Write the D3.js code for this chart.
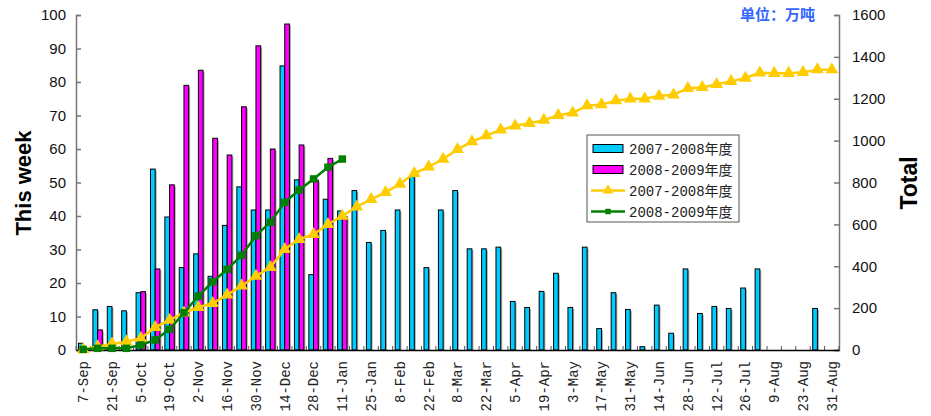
<!DOCTYPE html>
<html lang="zh">
<head>
<meta charset="UTF-8">
<style>
  body { margin: 0; background: #fff; }
  svg text { font-family: "Liberation Sans", Arial, sans-serif; }
</style>
<script src="https://cdnjs.cloudflare.com/ajax/libs/d3/7.8.5/d3.min.js"></script>
</head>
<body>
<div id="chart"></div>
<script>
var weeks = ['7-Sep','14-Sep','21-Sep','28-Sep','5-Oct','12-Oct','19-Oct','26-Oct','2-Nov','9-Nov',
  '16-Nov','23-Nov','30-Nov','7-Dec','14-Dec','21-Dec','28-Dec','4-Jan','11-Jan','18-Jan',
  '25-Jan','1-Feb','8-Feb','15-Feb','22-Feb','1-Mar','8-Mar','15-Mar','22-Mar','29-Mar',
  '5-Apr','12-Apr','19-Apr','26-Apr','3-May','10-May','17-May','24-May','31-May','7-Jun',
  '14-Jun','21-Jun','28-Jun','5-Jul','12-Jul','19-Jul','26-Jul','2-Aug','9-Aug','16-Aug',
  '23-Aug','30-Aug','31-Aug'];

// weekly, 2007-2008 season
var week0708 = [2, 12, 13, 11.7, 17.1, 54, 39.7, 24.6, 28.7, 22,
  37.2, 48.7, 41.8, 41.8, 84.8, 50.8, 22.5, 45, 41.5, 47.6,
  32.1, 35.7, 41.8, 51.9, 24.6, 41.8, 47.6, 30.2, 30.2, 30.7,
  14.5, 12.7, 17.5, 22.9, 12.7, 30.7, 6.4, 17.1, 12.1, 1,
  13.4, 5, 24.2, 10.9, 13, 12.4, 18.5, 24.2, 0, 0,
  0, 12.4, 0];
// weekly, 2008-2009 season
var week0809 = [0, 6, 0, 0, 17.4, 24.2, 49.3, 79, 83.5, 63.2,
  58.2, 72.6, 90.8, 60, 97.3, 61.2, 50.7, 57.2, 39.8];

// totals
var total0708 = [2, 16, 29, 40, 56, 108, 143, 178, 204, 223,
  263, 306, 353, 395, 481, 529, 552, 600, 640, 684,
  720, 753, 793, 844, 875, 912, 958, 995, 1024, 1051,
  1071, 1083, 1098, 1121, 1133, 1167, 1172, 1191, 1200, 1200,
  1213, 1219, 1250, 1254, 1269, 1283, 1299, 1324, 1322, 1322,
  1326, 1339, 1339];
var total0809 = [3, 8, 8, 8, 24, 48, 99, 178, 258, 326,
  385, 452, 546, 610, 705, 764, 817, 873, 912];

var leftTicks = d3.range(0, 101, 10);
var rightTicks = d3.range(0, 1601, 200);
var seriesNames = ['2007-2008年度', '2008-2009年度'];

var width = 931, height = 416;
var x0 = 76, x1 = 839, yTop = 15, yBot = 350;

var svg = d3.select('#chart').append('svg')
  .attr('width', width)
  .attr('height', height);

var x = d3.scaleBand().domain(weeks).range([x0, x1]).padding(0);
var xs = d3.scaleBand().domain(['a', 'b']).range([0, x.bandwidth()])
  .paddingInner(0).paddingOuter(0.53);
var y = d3.scaleLinear().domain([0, 100]).range([yBot, yTop]);
var y2 = d3.scaleLinear().domain([0, 1600]).range([yBot, yTop]);

// bars
function drawBars(data, key, colour) {
  var g = svg.append('g');
  g.selectAll('rect.sh').data(data).enter().append('rect')
    .attr('class', 'sh')
    .attr('x', function (d, i) { return x(weeks[i]) + xs(key) + 1.5; })
    .attr('y', function (d) { return y(d) + 1.5; })
    .attr('width', xs.bandwidth())
    .attr('height', function (d) { return d > 0 ? yBot - y(d) - 1.5 : 0; })
    .attr('fill', '#aaa');
  g.selectAll('rect.bar').data(data).enter().append('rect')
    .attr('class', 'bar')
    .attr('x', function (d, i) { return x(weeks[i]) + xs(key); })
    .attr('y', function (d) { return y(d); })
    .attr('width', xs.bandwidth())
    .attr('height', function (d) { return yBot - y(d); })
    .attr('fill', colour)
    .attr('stroke', '#000')
    .attr('stroke-width', 1)
    .style('display', function (d) { return d > 0 ? null : 'none'; });
}
drawBars(week0708, 'a', '#00ccff');
drawBars(week0809, 'b', '#ff00ff');

// axes
var axL = svg.append('g')
  .attr('transform', 'translate(' + x0 + ',0)')
  .call(d3.axisLeft(y).tickValues(leftTicks).tickSize(-5).tickPadding(10));
var axR = svg.append('g')
  .attr('transform', 'translate(' + x1 + ',0)')
  .call(d3.axisRight(y2).tickValues(rightTicks).tickFormat(d3.format('d'))
    .tickSize(-5).tickPadding(13));
[axL, axR].forEach(function (a) {
  a.select('.domain').attr('stroke', '#777').attr('stroke-width', 1.5);
  a.selectAll('.tick line').attr('stroke', '#777').attr('stroke-width', 1.5);
  a.selectAll('.tick text').style('font-size', '15px').attr('fill', '#111');
});

// category ticks
svg.append('g').selectAll('line').data(weeks.concat(['end'])).enter().append('line')
  .attr('x1', function (d, i) { return i < weeks.length ? x(d) : x1; })
  .attr('x2', function (d, i) { return i < weeks.length ? x(d) : x1; })
  .attr('y1', yBot)
  .attr('y2', yBot - 4)
  .attr('stroke', '#555');

var axB = svg.append('g')
  .attr('transform', 'translate(0,' + yBot + ')')
  .call(d3.axisBottom(x)
    .tickValues(weeks.filter(function (d, i) { return i % 2 === 0; }))
    .tickSize(0));
axB.select('.domain').attr('stroke', '#000').attr('stroke-width', 1.5);
axB.selectAll('.tick text')
  .attr('transform', 'rotate(-90)')
  .attr('x', -11)
  .attr('y', 0)
  .attr('dy', '0.35em')
  .attr('text-anchor', 'end')
  .style('font-family', '"Liberation Mono", "Noto Sans CJK SC", monospace')
  .style('font-size', '14px')
  .attr('fill', '#222');

// total lines
var line = d3.line()
  .x(function (d, i) { return x(weeks[i]) + x.bandwidth() / 2; })
  .y(function (d) { return y2(d); });

function drawLine(data, colour, sym, size) {
  var g = svg.append('g');
  g.append('path')
    .attr('d', line(data))
    .attr('fill', 'none')
    .attr('stroke', colour)
    .attr('stroke-width', 2.5);
  g.selectAll('path.m').data(data).enter().append('path')
    .attr('class', 'm')
    .attr('d', d3.symbol().type(sym).size(size))
    .attr('transform', function (d, i) {
      return 'translate(' + (x(weeks[i]) + x.bandwidth() / 2) + ',' + y2(d) + ')';
    })
    .attr('fill', colour);
}
drawLine(total0708, '#ffcc00', d3.symbolTriangle, 70);
drawLine(total0809, '#008000', d3.symbolSquare, 56);

// legend
var legend = svg.append('g').attr('transform', 'translate(587,135)');
legend.append('rect')
  .attr('width', 152)
  .attr('height', 87)
  .attr('fill', '#fff')
  .attr('stroke', '#555')
  .attr('stroke-width', 1);

var items = [
  { name: seriesNames[0], type: 'bar', colour: '#00ccff' },
  { name: seriesNames[1], type: 'bar', colour: '#ff00ff' },
  { name: seriesNames[0], type: 'line', colour: '#ffcc00', sym: d3.symbolTriangle, size: 50 },
  { name: seriesNames[1], type: 'line', colour: '#008000', sym: d3.symbolSquare, size: 30 }
];
var li = legend.selectAll('.li').data(items).enter().append('g')
  .attr('transform', function (d, i) { return 'translate(0,' + (13.5 + i * 21) + ')'; });
li.filter(function (d) { return d.type === 'bar'; }).append('rect')
  .attr('x', 6).attr('y', -4).attr('width', 30).attr('height', 8)
  .attr('fill', function (d) { return d.colour; })
  .attr('stroke', '#000');
li.filter(function (d) { return d.type === 'line'; }).append('line')
  .attr('x1', 4).attr('x2', 38)
  .attr('stroke', function (d) { return d.colour; })
  .attr('stroke-width', 2.5);
li.filter(function (d) { return d.type === 'line'; }).append('path')
  .attr('d', function (d) { return d3.symbol().type(d.sym).size(d.size)(); })
  .attr('transform', 'translate(21,0)')
  .attr('fill', function (d) { return d.colour; });
li.append('text')
  .attr('x', 42)
  .attr('dy', '0.36em')
  .style('font-family', '"Liberation Mono", "Noto Sans CJK SC", monospace')
  .style('font-size', '14px')
  .attr('fill', '#222')
  .text(function (d) { return d.name; });

// axis titles
svg.append('text')
  .attr('transform', 'translate(31,183) rotate(-90)')
  .attr('text-anchor', 'middle')
  .style('font-size', '22px')
  .style('font-weight', 'bold')
  .text('This week');
svg.append('text')
  .attr('transform', 'translate(917,183) rotate(-90)')
  .attr('text-anchor', 'middle')
  .style('font-size', '23px')
  .style('font-weight', 'bold')
  .text('Total');
svg.append('text')
  .attr('x', 815)
  .attr('y', 20)
  .attr('text-anchor', 'end')
  .style('font-family', '"Noto Sans CJK SC", sans-serif')
  .style('font-size', '15px')
  .style('font-weight', 'bold')
  .attr('fill', '#3366ff')
  .text('单位：万吨');
</script>
</body>
</html>
